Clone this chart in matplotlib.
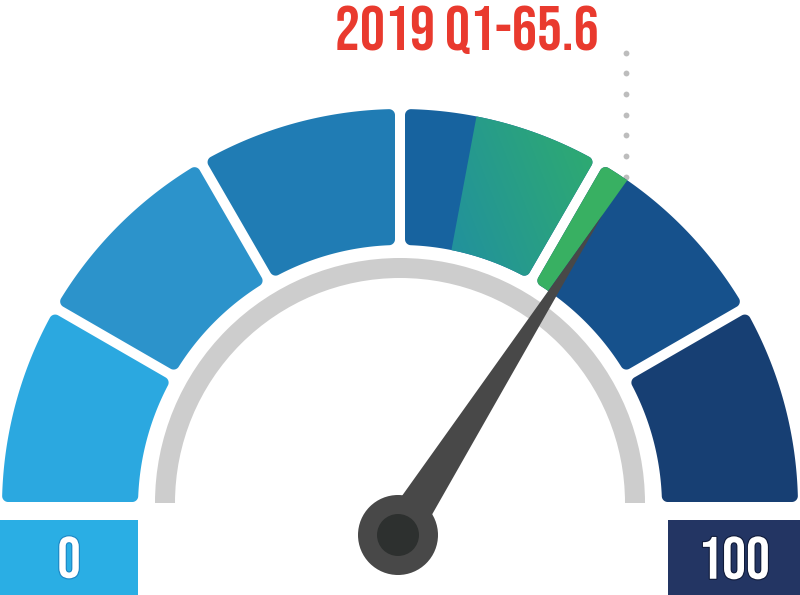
import numpy as np
import matplotlib
matplotlib.use("Agg")
import matplotlib.pyplot as plt
from matplotlib.patches import Polygon, Wedge, Circle, Rectangle
import matplotlib.patheffects as pe

# ---------------- data ----------------
period = "2019 Q1"
value = 65.6
scale_min, scale_max = 0, 100
band_edges = [0, 16.67, 33.33, 50, 66.67, 83.33, 100]
band_colors = ["#2BA8E0", "#2C93CB", "#207CB4", "#17639F", "#16518C", "#173F73"]
fill_start = 55.9      # where the highlighted (gradient) fill begins on the dial
pointer_pos = 68.1     # visual needle position on the dial
grad_colors = ["#21909F", "#2FAC6E"]
fill_color = "#38B062"

# ---------------- layout ----------------
W, H = 800, 595
C = np.array([400.0, 88.0])      # dial centre
P = np.array([398.0, 60.0])      # needle pivot
R_OUT, R_IN = 398.0, 262.0
HALF_GAP, RAD = 5.0, 6.0


def ang(v):
    return np.deg2rad(180.0 - 180.0 * (v - scale_min) / (scale_max - scale_min))


def sector(a_lo, a_hi, r_in, r_out):
    d = HALF_GAP + RAD
    ro, ri = r_out - RAD, r_in + RAD
    t_o = np.linspace(a_lo + np.arcsin(d / ro), a_hi - np.arcsin(d / ro), 200)
    t_i = np.linspace(a_hi - np.arcsin(d / ri), a_lo + np.arcsin(d / ri), 200)
    pts = np.vstack([np.c_[ro * np.cos(t_o), ro * np.sin(t_o)],
                     np.c_[ri * np.cos(t_i), ri * np.sin(t_i)]]) + C
    out = []
    n = len(pts)
    for i in range(n):
        p0, p1, p2 = pts[i - 1], pts[i], pts[(i + 1) % n]
        e1, e2 = p1 - p0, p2 - p1
        th1 = np.arctan2(-e1[0], e1[1])
        th2 = np.arctan2(-e2[0], e2[1])
        dth = (th2 - th1 + np.pi) % (2 * np.pi) - np.pi
        m = max(1, int(np.ceil(abs(dth) / 0.08)))
        for k in range(m + 1):
            t = th1 + dth * k / m
            out.append(p1 + RAD * np.array([np.cos(t), np.sin(t)]))
    return np.array(out)


def clip_half(poly, A, d, keep_left):
    res = []
    def side(p):
        c = d[0] * (p[1] - A[1]) - d[1] * (p[0] - A[0])
        return c if keep_left else -c
    n = len(poly)
    for i in range(n):
        cur, nxt = poly[i], poly[(i + 1) % n]
        sc, sn = side(cur), side(nxt)
        if sc >= 0:
            res.append(cur)
        if (sc >= 0) != (sn >= 0):
            t = sc / (sc - sn)
            res.append(cur + t * (nxt - cur))
    return np.array(res)


fig = plt.figure(figsize=(8, 5.95), dpi=100)
ax = fig.add_axes([0, 0, 1, 1])
ax.set_xlim(0, W)
ax.set_ylim(0, H)
ax.axis("off")

shapes = []
for i in range(len(band_colors)):
    a_hi, a_lo = ang(band_edges[i]), ang(band_edges[i + 1])
    poly = sector(a_lo, a_hi, R_IN, R_OUT)
    shapes.append(poly)
    ax.add_patch(Polygon(poly, closed=True, facecolor=band_colors[i], edgecolor="none", zorder=2))

# needle geometry
a_n = ang(pointer_pos)
u = np.array([np.cos(a_n), np.sin(a_n)])
nl = np.array([-u[1], u[0]])
tip = P + 380.0 * u
half_w = 19.5
base_l, base_r = P + half_w * nl, P - half_w * nl

# gradient fill in the band holding fill_start, solid fill up to the needle
a_f = ang(fill_start)
df = np.array([np.cos(a_f), np.sin(a_f)])
for i in range(len(band_colors)):
    if band_edges[i] <= fill_start < band_edges[i + 1]:
        gpoly = clip_half(shapes[i], P, df, keep_left=False)
        clip = Polygon(gpoly, closed=True, facecolor="none", edgecolor="none", transform=ax.transData)
        ax.add_patch(clip)
        x0, x1 = gpoly[:, 0].min(), gpoly[:, 0].max()
        y0, y1 = gpoly[:, 1].min(), gpoly[:, 1].max()
        xx, yy = np.meshgrid(np.linspace(0, 1, 200), np.linspace(0, 1, 200))
        t = np.clip(0.8 * xx + 0.35 * (1 - yy), 0, 1.15) / 1.15
        c0 = np.array(matplotlib.colors.to_rgb(grad_colors[0]))
        c1 = np.array(matplotlib.colors.to_rgb(grad_colors[1]))
        img = c0[None, None, :] * (1 - t[..., None]) + c1[None, None, :] * t[..., None]
        im = ax.imshow(img, extent=(x0, x1, y0, y1), origin="upper", zorder=3,
                       interpolation="bilinear", aspect="auto")
        im.set_clip_path(clip)
    if band_edges[i] < pointer_pos <= band_edges[i + 1] and band_edges[i] > fill_start:
        d_edge = (tip - base_l) / np.linalg.norm(tip - base_l)
        fpoly = clip_half(shapes[i], base_l, d_edge, keep_left=True)
        ax.add_patch(Polygon(fpoly, closed=True, facecolor=fill_color, edgecolor="none", zorder=3))

ax.set_xlim(0, W)
ax.set_ylim(0, H)

# inner grey track
ax.add_patch(Wedge((C[0], 92.0), 245, 0, 180, width=20, facecolor="#CDCDCD", edgecolor="none", zorder=2))

# needle and pivot
ax.add_patch(Polygon([base_l, tip, base_r, P - 5 * u], closed=True, facecolor="#484848",
                     edgecolor="none", zorder=5))
ax.add_patch(Circle(P, 40, facecolor="#484848", edgecolor="none", zorder=6))
ax.add_patch(Circle(P, 21, facecolor="#2D302F", edgecolor="none", zorder=7))

# scale boxes
ax.add_patch(Rectangle((0, 0), 138, 75, facecolor="#2AAEE4", edgecolor="none", zorder=2))
ax.add_patch(Rectangle((668, 0), 132, 75, facecolor="#233563", edgecolor="none", zorder=2))
ax.text(69, 37.5, f"{scale_min}", family="Bebas Neue", fontsize=42, color="white",
        ha="center", va="center_baseline", zorder=8,
        path_effects=[pe.Stroke(linewidth=1.6, foreground="#1C86C4"), pe.Normal()])
ax.text(734, 37.5, f"{scale_max}", family="Bebas Neue", fontsize=43, color="white",
        ha="center", va="center_baseline", zorder=8,
        path_effects=[pe.Stroke(linewidth=1.6, foreground="#101B3A"), pe.Normal()])

# title label
ax.text(466.5, 545, f"{period}-{value}", family="Bebas Neue", fontsize=45, color="#E93A2E",
        ha="center", va="baseline", zorder=8)

# dotted leader
edge_pt_y = H - 176.7
ys = np.linspace(H - 52.7, edge_pt_y, 7)
ax.plot(np.full_like(ys, 626.0), ys, linestyle="none", marker="o", markersize=4.2,
        color="#BDBDBD", markeredgewidth=0, zorder=1)

fig.savefig("out.png", dpi=100)
